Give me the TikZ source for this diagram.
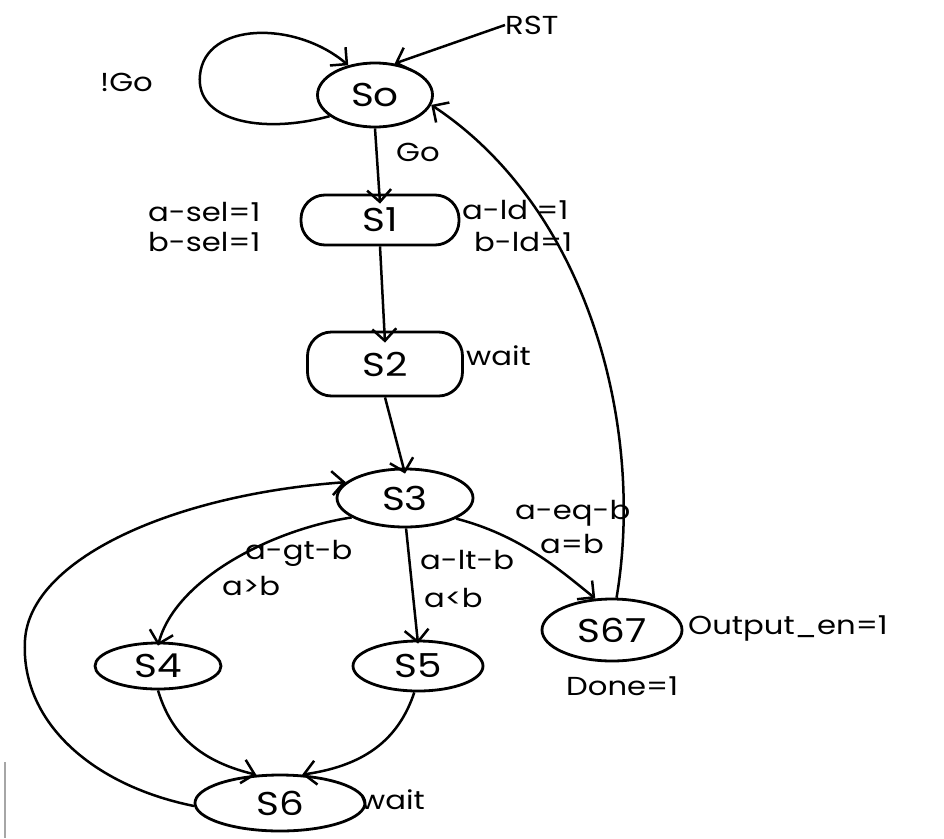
\documentclass[tikz,border=0pt]{standalone}
\usepackage{fontspec}
\setmainfont{Poppins}
\usetikzlibrary{shapes.geometric,arrows.meta}
\newcommand{\hw}[1]{\scalebox{1.18}[1]{#1}}
\begin{document}
\begin{tikzpicture}[x=1pt,y=-1pt,
  stbox/.style={draw,ellipse,line width=2.8pt,inner sep=0pt,font=\fontsize{33}{35}\selectfont},
  stround/.style={draw,rectangle,rounded corners=24pt,line width=2.8pt,inner sep=0pt,font=\fontsize{33}{35}\selectfont},
  tr/.style={draw,line width=2.5pt,-{Straight Barb[length=12pt,width=24pt,line width=2.5pt]}},
  lab/.style={font=\fontsize{26}{28}\selectfont,inner sep=0pt,anchor=west}]
\useasboundingbox (0,0) rectangle (944,838);
\fill[white] (0,0) rectangle (944,838);
% states
\node[stbox,minimum width=115pt,minimum height=64pt] (s0) at (375,95) {\hw{So}};
\node[stround,minimum width=158pt,minimum height=50pt] (s1) at (380,220) {\hw{S1}};
\node[stround,minimum width=155pt,minimum height=64pt] (s2) at (385,364) {\hw{S2}};
\node[stbox,minimum width=136pt,minimum height=58pt] (s3) at (405,498) {\hw{S3}};
\node[stbox,minimum width=126pt,minimum height=46pt] (s4) at (158,666) {\hw{S4}};
\node[stbox,minimum width=130pt,minimum height=50pt] (s5) at (418,666) {\hw{S5}};
\node[stbox,minimum width=140pt,minimum height=62pt] (s7) at (612,630) {\hw{S67}};
\node[stbox,minimum width=170pt,minimum height=56pt] (s6) at (280,803) {\hw{S6}};
% texts
\node[lab] (notgo) at (100,82) {\hw{!Go}};
\node[lab] (rst) at (505,25) {\hw{RST}};
\node[lab] (go) at (396,152) {\hw{Go}};
\node[lab] (sel1) at (148,212) {\hw{a-sel=1}};
\node[lab] (sel2) at (148,242) {\hw{b-sel=1}};
\node[lab] (ld1) at (462,210) {\hw{a-ld =1}};
\node[lab] (ld2) at (474,242) {\hw{b-ld=1}};
\node[lab] (w2) at (466,356) {\hw{wait}};
\node[lab] (eq1) at (515,513) {\hw{a-eq-b}};
\node[lab] (eq2) at (540,544) {\hw{a=b}};
\node[lab] (gt1) at (245,553) {\hw{a-gt-b}};
\node[lab] (gt2) at (222,586) {\hw{a>b}};
\node[lab] (lt1) at (420,560) {\hw{a-lt-b}};
\node[lab] (lt2) at (424,598) {\hw{a<b}};
\node[lab] (out) at (688,628) {\hw{Output\_en=1}};
\node[lab] (done) at (566,686) {\hw{Done=1}};
\node[lab] (w6) at (360,800) {\hw{wait}};
% transitions
\draw[tr] (s0.205) .. controls (260,135) and (195,120) .. (200,75)
  .. controls (205,22) and (295,20) .. (s0.132);
\draw[tr] (rst.west) -- (s0.58);
\draw[tr] (s0.south) -- ([yshift=-10pt]s1.north);
\draw[tr] (s1.south) -- ([yshift=-12pt]s2.north);
\draw[tr] (s2.south) -- ([yshift=-6pt]s3.north);
\draw[tr] (s3.200) .. controls (270,530) and (175,580) .. ([yshift=-4pt]s4.north);
\draw[tr] (s3.272) -- ([yshift=-4pt]s5.north);
\draw[tr] (s3.338) .. controls (520,535) and (560,570) .. (s7.118);
\draw[tr] (s7.82) .. controls (645,430) and (590,210) .. (s0.350);
\draw[tr] (s4.south) .. controls (170,730) and (195,760) .. (s6.130);
\draw[tr] (s5.262) .. controls (400,735) and (370,765) .. (s6.52);
\draw[tr] (s6.182) .. controls (90,785) and (20,720) .. (25,640)
  .. controls (30,560) and (170,495) .. (s3.165);
% page edge
\draw[line width=2.5pt,gray!70] (5,762) -- (5,838);
\end{tikzpicture}
\end{document}
